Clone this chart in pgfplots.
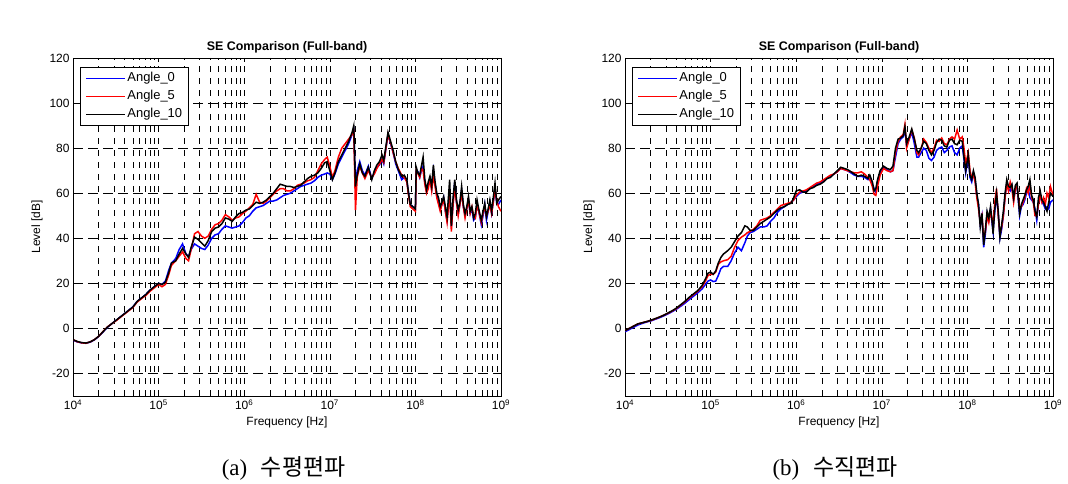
\documentclass[border=0pt]{standalone}
\usepackage{fontspec}
\setmainfont{Liberation Sans}
\newfontfamily\kr{Noto Sans CJK KR}
\newfontfamily\capserif{Liberation Serif}
\usepackage{pgfplots}
\usepackage{pgfplotstable}
\pgfplotsset{compat=1.18}

% Horizontal polarisation: f [Hz], Angle_0, Angle_5, Angle_10 [dB]
\pgfplotstableread{
f a0 a5 a10
1.000e4 -5.2 -5.0 -5.0
1.122e4 -6.0 -5.9 -5.8
1.259e4 -6.4 -6.4 -6.3
1.413e4 -6.6 -6.6 -6.5
1.585e4 -6.1 -6.0 -6.0
1.778e4 -5.1 -5.0 -5.0
1.995e4 -3.6 -3.5 -3.5
2.239e4 -1.6 -1.4 -1.5
2.512e4 0.4 0.6 0.5
2.818e4 2.0 2.0 2.0
3.162e4 3.5 3.3 3.5
3.548e4 5.0 4.8 5.0
3.981e4 6.5 6.3 6.5
4.467e4 8.0 7.8 8.0
5.012e4 9.6 9.3 9.5
5.623e4 12.0 11.7 12.0
6.310e4 13.5 13.2 13.5
7.079e4 15.0 14.6 15.0
7.943e4 17.0 16.5 17.0
8.913e4 18.5 18.0 18.5
1.000e5 20.0 19.5 20.0
1.096e5 19.5 18.5 19.5
1.202e5 21 19.5 20.5
1.318e5 26 24 25
1.413e5 29 28 29
1.585e5 31 30 30
1.738e5 35 32 33
1.905e5 37.5 34 35.5
2.089e5 33 31 33
2.239e5 32 30 31.5
2.399e5 35 35 36
2.630e5 37.5 42 40.5
2.884e5 36.5 43 39.5
3.162e5 35.5 41 38
3.467e5 35 40 36.5
3.802e5 37 41 39
4.169e5 40 44 43
4.571e5 41.5 46 44.5
5.012e5 42 46.5 45
5.495e5 44 48 46.5
6.026e5 45.5 50.5 49
6.607e5 45 49.5 48.5
7.244e5 44.5 48 47.5
7.943e5 45 49 49.5
8.710e5 45.5 49.5 51
9.550e5 47 51 51.5
1.047e6 49 52 52.5
1.148e6 50 53.5 53
1.259e6 52 55 54.5
1.380e6 53.5 59.5 56
1.514e6 54 56 55.5
1.660e6 54.5 55.5 56
1.820e6 55.5 56.5 57
1.995e6 56.5 58 58.5
2.188e6 56.5 59.5 60
2.399e6 57 61 62
2.630e6 58 62 64
2.884e6 59 62 63.5
3.162e6 59.5 61 63
3.467e6 60 61 63
3.802e6 61 62 62.5
4.169e6 62 63.5 63
4.571e6 63 64 63.5
5.012e6 63.5 64.5 65
5.495e6 64 65.5 66.5
6.026e6 64.5 66 67.5
6.607e6 65.5 67 68
7.244e6 67 70 69
7.943e6 68 73 71
8.710e6 68.5 75 73.5
9.333e6 69 76 74
1.000e7 68.5 72 70
1.072e7 66 67 66
1.148e7 68.5 70 69
1.259e7 73 76 74
1.380e7 76 80 77
1.514e7 79 82 80
1.660e7 82 84 83
1.820e7 86 86 87
1.905e7 88 87.5 90
1.995e7 64 52.5 63
2.089e7 70 67 68
2.239e7 74 72 73
2.399e7 70 69 69
2.570e7 68 66.5 67.5
2.818e7 72 70 71.5
3.090e7 66.5 67 66
3.311e7 69 68.5 70
3.548e7 71.5 71 72.5
3.802e7 72.5 73 74
4.074e7 75 75 77
4.266e7 73 73.5 74.5
4.571e7 81 81 82
4.786e7 86 86 87
5.129e7 82 82.5 83
5.495e7 78 78 79
5.888e7 73 74 74
6.310e7 70 71 70.5
6.918e7 66 68 67.5
7.413e7 67 67 68
7.943e7 65.5 65 66
8.318e7 60 59 60
8.710e7 55 54 55
9.333e7 54 53 54
1.000e8 53 52 53
1.023e8 70 70 71.5
1.072e8 69.5 68.5 69
1.122e8 67 67 68
1.175e8 70 71 72
1.230e8 72 70 76
1.288e8 65 64 66
1.349e8 61 60 61.5
1.413e8 64 62 65
1.479e8 66 66 67.5
1.549e8 62 61 63
1.622e8 70 68 72.5
1.698e8 64 63 65
1.778e8 59 58 60
1.862e8 56 55 58
1.950e8 53 52 54
2.042e8 55 55 56
2.138e8 58 57 58.5
2.239e8 52 52 54
2.344e8 48 47 49.5
2.512e8 62 60 66
2.630e8 45 43 45.5
2.754e8 56 55 58
2.884e8 65 62 66
3.020e8 56 56 57
3.162e8 51 50 52.5
3.311e8 55 55 56
3.467e8 61 60 63
3.631e8 54 54 55
3.802e8 50 49 51
3.981e8 53 53 54
4.169e8 57 57 58.5
4.365e8 51 51 52
4.571e8 53 54 54
4.786e8 48 50 49
5.012e8 49 49 51
5.248e8 55 55 57
5.495e8 52 52 53
5.888e8 46 47 48
6.166e8 50 51 52
6.457e8 55 54 55.5
6.761e8 48 50 49.5
7.079e8 52 52 53
7.413e8 56 55 57
7.762e8 51 51 52
8.128e8 56 56 58
8.511e8 62 62 64.5
8.913e8 56 57 55.5
9.333e8 55 54 57
1.000e9 57 52 58.5
}\horizdata

% Vertical polarisation
\pgfplotstableread{
f a0 a5 a10
1.000e4 -1.5 -1 -1
1.122e4 -0.5 0 0
1.259e4 0.5 1 1
1.413e4 1.5 2 2
1.585e4 2.2 2.5 2.5
1.778e4 2.8 3 3
1.995e4 3.3 3.5 3.6
2.239e4 4 4.2 4.3
2.512e4 4.7 5 5
2.818e4 5.5 5.8 5.8
3.162e4 6.4 6.7 6.8
3.548e4 7.4 7.7 7.8
3.981e4 8.5 8.8 9
4.467e4 9.8 10.3 10.5
5.012e4 11.2 11.8 12
5.623e4 12.8 13.5 13.8
6.310e4 14.3 15 15.3
7.079e4 15.8 16.5 16.8
7.943e4 17.5 18.5 19
8.710e4 19.5 21 22
9.333e4 21 23.5 24.5
1.000e5 21.5 24 25
1.072e5 20.8 24 24
1.148e5 21 25 25.5
1.230e5 23.5 28.5 29
1.318e5 26.5 29.5 31.5
1.413e5 27.5 30 33
1.585e5 27.5 30.5 34.5
1.738e5 30 32 36
1.905e5 33.5 36 38.5
2.089e5 36 39 41
2.291e5 34.5 40.5 42.5
2.512e5 38 41.5 45.5
2.692e5 41 42.5 45
2.884e5 42.5 43 43.5
3.162e5 43 44 43.5
3.467e5 44 45.5 45
3.802e5 45 48 46.5
4.169e5 45 48.5 47.5
4.571e5 45.5 49 48.5
5.012e5 47.5 50 49.5
5.495e5 49 51.5 51
6.026e5 51.5 53 52.5
6.607e5 53 54.5 53.5
7.244e5 54 55 54
7.943e5 55 55.5 55
8.710e5 56 56 55.5
9.333e5 57 57 58
1.000e6 58.5 59 61
1.096e6 60 60.5 61.5
1.202e6 60.5 61 60.5
1.318e6 61 61.5 60.5
1.445e6 62 62.5 62
1.585e6 63 63.5 62.5
1.738e6 64 64.5 63.5
1.905e6 64.5 65 64
2.089e6 65.5 66 65
2.291e6 66.5 67 66.5
2.512e6 67.5 68 67
2.754e6 68.5 68.5 68.5
3.020e6 69.5 69.5 70
3.311e6 71 71 71.5
3.631e6 70.5 70.5 71
3.981e6 70 70 70.5
4.365e6 69 69.5 69.5
4.786e6 68 69 68.5
5.248e6 67.5 69 67.5
5.754e6 67.5 69.5 68
6.310e6 67 68.5 67.5
6.918e6 66 67 66.5
7.244e6 66.5 66 68
7.762e6 64 63 65
8.128e6 62 59.5 61
8.511e6 60.5 59 62
8.913e6 65 63 66
9.550e6 69 68 70
1.047e7 71.5 71 72
1.148e7 70.5 70 71
1.259e7 69.5 69.5 70.5
1.349e7 70 70 72
1.445e7 76 78 80
1.549e7 82 83 84
1.660e7 84 85 84.5
1.778e7 85 86 85.5
1.862e7 88 90.5 89.5
1.950e7 81 80 82
2.089e7 84 84 85
2.239e7 87 88 88.5
2.399e7 82 84.5 84
2.570e7 76 78 79
2.692e7 76 77 78
2.884e7 78 80 80
3.090e7 80 84 83
3.311e7 79 82.5 82
3.548e7 75.5 80 79
3.802e7 74.5 78 77
4.074e7 76 80 79
4.365e7 79 83.5 82.5
4.677e7 80 83 84
5.012e7 80.5 84.5 83.5
5.370e7 78 82 81
5.754e7 79 81.5 80.5
6.166e7 80.5 84 83.5
6.607e7 81 85 84
7.079e7 78 84 82
7.586e7 77 88 81.5
8.128e7 80 84 83.5
8.710e7 81 85 83
9.120e7 75 80 76
9.550e7 69 73 70
1.023e8 76 78 77
1.072e8 67 70 68
1.122e8 65 67 66
1.175e8 69 68 70
1.230e8 66 65 67
1.288e8 59 58 60
1.349e8 55 53 55
1.413e8 46 47 45
1.479e8 50 50 51
1.549e8 36 40 37
1.622e8 42 43 44
1.698e8 51 50 52
1.778e8 48 47 49
1.862e8 53 52 54
1.950e8 46 48 47
1.995e8 43 45 42
2.089e8 52 56 53
2.188e8 59 62 60
2.291e8 51 50 52
2.399e8 40 42 40.5
2.512e8 44 45 46
2.630e8 50 50 52
2.754e8 59 58 60
2.884e8 64 64 66
3.020e8 62 61 63
3.162e8 61 65 62.5
3.311e8 63 62 64
3.467e8 57 56 58
3.631e8 62 62 63.5
3.802e8 63 63 64.5
4.074e8 50 53 51
4.266e8 54 54 55
4.467e8 55 56 57
4.677e8 57 58 59
4.898e8 60 62 61.5
5.129e8 62 60 63
5.370e8 58 64 66
5.623e8 57 58 59
5.888e8 56 56 57
6.166e8 53 50 52
6.457e8 48 50 49.5
6.761e8 56 55 58
7.079e8 59 60 61
7.413e8 56 56 57
7.762e8 55 58 56
8.128e8 53 55 54
8.511e8 54 60 52
8.913e8 53 58 56
9.333e8 56 63 60
1.000e9 57 59 58.5
}\vertdata

\pgfplotsset{
  legend image code/.code={\draw[#1, line width=1.6bp] (0bp,0bp) -- (39bp,0bp);},
  every axis title/.style={at={(0.5,1)}, anchor=base, yshift=7bp,
      font=\bfseries\fontsize{12.5}{14}\selectfont},
  every axis legend/.style={at={(0.0164,0.973)}, anchor=north west, draw=black,
      line width=0.6bp, fill=white,
      inner xsep=5bp, inner ysep=3.5bp, row sep=3bp, cells={anchor=west},
      nodes={font=\fontsize{13}{15}\selectfont, inner sep=1.5bp}},
  major x grid style={black, line width=0.6bp, dash pattern=on 6bp off 6bp},
  minor x grid style={black, line width=0.6bp, dash pattern=on 6bp off 6bp},
  major y grid style={black, line width=0.6bp, dash pattern=on 10bp off 5bp},
  tick style={black, line width=0.6bp},
  axis line style={black, line width=0.7bp},
  every tick label/.append style={font=\fontsize{12}{14}\selectfont},
  every axis label/.append style={font=\fontsize{12}{14}\selectfont},
}

\begin{document}
\begin{tikzpicture}
\useasboundingbox (0bp,0bp) rectangle (1068bp,484bp);
\begin{axis}[
    at={(73bp,88bp)}, anchor=south west,
    scale only axis, width=428bp, height=338bp,
    xmode=log, xmin=1e4, xmax=1e9, ymin=-30, ymax=120,
    ytick={-20,0,20,40,60,80,100,120},
    yticklabels={-20,0,20,40,60,80,100,120},
    xtick={1e4,1e5,1e6,1e7,1e8,1e9},
    xticklabels={10\textsuperscript{4},10\textsuperscript{5},10\textsuperscript{6},10\textsuperscript{7},10\textsuperscript{8},10\textsuperscript{9}},
    minor xtick={2e4,3e4,4e4,5e4,6e4,7e4,8e4,9e4,2e5,3e5,4e5,5e5,6e5,7e5,8e5,9e5,2e6,3e6,4e6,5e6,6e6,7e6,8e6,9e6,2e7,3e7,4e7,5e7,6e7,7e7,8e7,9e7,2e8,3e8,4e8,5e8,6e8,7e8,8e8,9e8},
    grid=both,
    tick align=inside,
    major tick length=4bp, minor tick length=2.5bp,
    xlabel={Frequency [Hz]},
    ylabel={Level [dB]},
    title={SE Comparison (Full-band)},
  ]
  \addplot[blue, line width=1.5bp] table[x=f, y=a0] {\horizdata};
  \addplot[red, line width=1.5bp] table[x=f, y=a5] {\horizdata};
  \addplot[black, line width=1.5bp] table[x=f, y=a10] {\horizdata};
  \legend{Angle\_0, Angle\_5, Angle\_10}
\end{axis}
\begin{axis}[
    at={(625bp,88bp)}, anchor=south west,
    scale only axis, width=428bp, height=338bp,
    xmode=log, xmin=1e4, xmax=1e9, ymin=-30, ymax=120,
    ytick={-20,0,20,40,60,80,100,120},
    yticklabels={-20,0,20,40,60,80,100,120},
    xtick={1e4,1e5,1e6,1e7,1e8,1e9},
    xticklabels={10\textsuperscript{4},10\textsuperscript{5},10\textsuperscript{6},10\textsuperscript{7},10\textsuperscript{8},10\textsuperscript{9}},
    minor xtick={2e4,3e4,4e4,5e4,6e4,7e4,8e4,9e4,2e5,3e5,4e5,5e5,6e5,7e5,8e5,9e5,2e6,3e6,4e6,5e6,6e6,7e6,8e6,9e6,2e7,3e7,4e7,5e7,6e7,7e7,8e7,9e7,2e8,3e8,4e8,5e8,6e8,7e8,8e8,9e8},
    grid=both,
    tick align=inside,
    major tick length=4bp, minor tick length=2.5bp,
    xlabel={Frequency [Hz]},
    ylabel={Level [dB]},
    title={SE Comparison (Full-band)},
  ]
  \addplot[blue, line width=1.5bp] table[x=f, y=a0] {\vertdata};
  \addplot[red, line width=1.5bp] table[x=f, y=a5] {\vertdata};
  \addplot[black, line width=1.5bp] table[x=f, y=a10] {\vertdata};
  \legend{Angle\_0, Angle\_5, Angle\_10}
\end{axis}
\node[font=\fontsize{23}{26}\selectfont, anchor=base] at (283.5bp,9bp) {\capserif(a)\hspace{0.6em}\kr 수평편파};
\node[font=\fontsize{23}{26}\selectfont, anchor=base] at (835bp,9bp) {\capserif(b)\hspace{0.6em}\kr 수직편파};
\end{tikzpicture}
\end{document}
